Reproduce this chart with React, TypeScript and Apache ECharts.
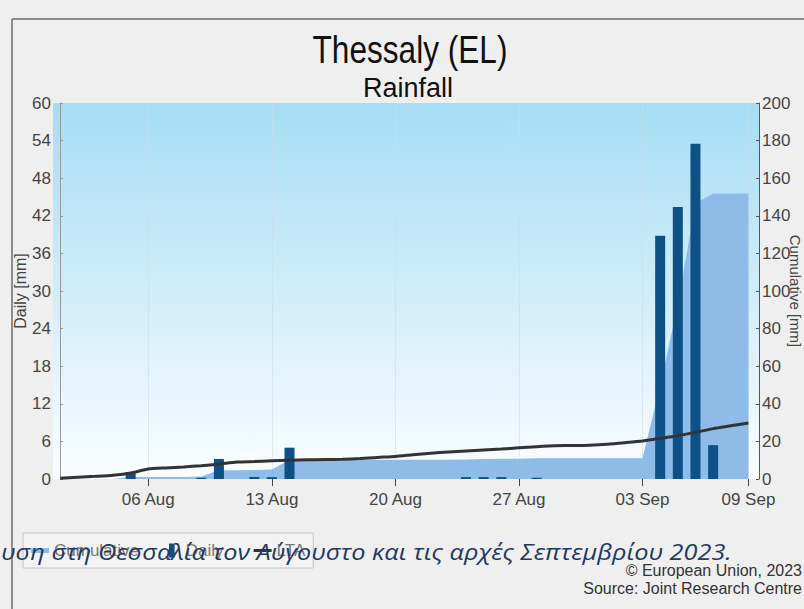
import React, { useEffect, useRef } from "react";
import * as echarts from "echarts";

// ---- data ----
const dates: string[] = [
  "01 Aug", "02 Aug", "03 Aug", "04 Aug", "05 Aug", "06 Aug", "07 Aug", "08 Aug", "09 Aug", "10 Aug",
  "11 Aug", "12 Aug", "13 Aug", "14 Aug", "15 Aug", "16 Aug", "17 Aug", "18 Aug", "19 Aug", "20 Aug",
  "21 Aug", "22 Aug", "23 Aug", "24 Aug", "25 Aug", "26 Aug", "27 Aug", "28 Aug", "29 Aug", "30 Aug",
  "31 Aug", "01 Sep", "02 Sep", "03 Sep", "04 Sep", "05 Sep", "06 Sep", "07 Sep", "08 Sep", "09 Sep",
];
const tickLabels: string[] = ["06 Aug", "13 Aug", "20 Aug", "27 Aug", "03 Sep", "09 Sep"];

const daily: number[] = [
  0, 0, 0, 0, 1.1, 0, 0, 0, 0.2, 3.2,
  0, 0.3, 0.3, 5.0, 0, 0, 0, 0, 0, 0,
  0, 0, 0, 0.3, 0.3, 0.3, 0, 0.2, 0, 0,
  0, 0, 0, 0, 38.8, 43.4, 53.5, 5.4, 0, 0,
];
const cumulative: number[] = [
  0, 0, 0, 0, 1.1, 1.1, 1.1, 1.1, 1.3, 4.6,
  4.6, 4.8, 5.0, 10.2, 10.2, 10.2, 10.2, 10.2, 10.2, 10.2,
  10.2, 10.2, 10.2, 10.4, 10.6, 10.8, 10.8, 11.0, 11.0, 11.0,
  11.0, 11.0, 11.0, 11.0, 49.6, 93.0, 146.5, 151.9, 151.9, 151.9,
];
const lta: number[] = [
  0.4, 0.9, 1.4, 2.0, 3.2, 5.3, 5.9, 6.4, 7.1, 7.9,
  9.0, 9.3, 9.7, 10.0, 10.2, 10.35, 10.5, 10.9, 11.5, 12.0,
  12.9, 13.7, 14.4, 14.9, 15.4, 15.9, 16.6, 17.2, 17.7, 17.8,
  18.0, 18.5, 19.3, 20.2, 21.6, 23.0, 24.8, 26.8, 28.3, 29.8,
];

const title = "Thessaly (EL)";
const subtitle = "Rainfall";
const caption = "υση στη Θεσσαλία τον Αύγουστο και τις αρχές Σεπτεμβρίου 2023.";
const credit1 = "© European Union, 2023";
const credit2 = "Source: Joint Research Centre";

const FONT = "'Liberation Sans', Arial, Helvetica, sans-serif";

function measure(text: string, font: string): number {
  const c = document.createElement("canvas").getContext("2d");
  if (!c) return 0;
  c.font = font;
  return c.measureText(text).width;
}

export default function App() {
  const ref = useRef<HTMLDivElement>(null);

  useEffect(() => {
    if (!ref.current) return;
    const chart = echarts.init(ref.current, undefined, { renderer: "svg" });

    const tickIdx = tickLabels.map((l) => dates.indexOf(l));
    const titleW = measure(title, `38px ${FONT}`);
    const titleScale = titleW > 0 ? 195 / titleW : 1;
    const capFont = `italic 21px 'Open Sans', 'Noto Sans', sans-serif`;
    const capW = measure(caption, capFont);
    const capScale = capW > 0 ? 731 / capW : 1;

    chart.setOption({
      animation: false,
      backgroundColor: "#efefef",
      textStyle: { fontFamily: FONT },
      grid: {
        left: 53,
        right: 45,
        top: 103,
        bottom: 130,
        outerBoundsMode: "none",
        containLabel: false,
        show: true,
        borderWidth: 0,
        backgroundColor: new echarts.graphic.LinearGradient(0, 0, 0, 1, [
          { offset: 0, color: "#a6ddf4" },
          { offset: 1, color: "#fbfdff" },
        ]),
      },
      legend: {
        left: 23,
        top: 533,
        orient: "horizontal",
        itemWidth: 18,
        itemHeight: 14,
        itemGap: 30,
        padding: [9, 8],
        borderColor: "#c4c4c4",
        borderWidth: 1,
        backgroundColor: "#f3f3f3",
        textStyle: { fontSize: 17, color: "#777", fontFamily: FONT },
        data: [
          { name: "Cumulative", icon: "path://M0 0H18V5H0Z" },
          { name: "Daily", icon: "path://M0 0H6V15H0Z" },
          { name: "LTA", icon: "path://M0 0H18V3H0Z" },
        ],
      },
      xAxis: {
        type: "value",
        min: -0.4,
        max: 39.6,
        axisLine: { show: false },
        axisTick: {
          show: true,
          customValues: tickIdx,
          length: 7,
          lineStyle: { color: "#444", width: 1 },
        },
        axisLabel: {
          customValues: tickIdx,
          formatter: (v: number) => dates[Math.round(v)] ?? "",
          margin: 12,
          fontSize: 17,
          color: "#444",
          fontFamily: FONT,
        },
        splitLine: { show: true, lineStyle: { color: "rgba(200,220,232,0.55)", width: 1 } },
      },
      yAxis: [
        {
          type: "value",
          position: "left",
          min: 0,
          max: 60,
          interval: 6,
          name: "Daily [mm]",
          nameLocation: "middle",
          nameRotate: 90,
          nameGap: 25,
          nameMoveOverlap: false,
          nameTextStyle: { fontSize: 16, color: "#444", fontFamily: FONT },
          axisLine: { show: true, lineStyle: { color: "#999", width: 1 } },
          axisTick: { show: true, inside: true, length: 3, lineStyle: { color: "#999" } },
          axisLabel: { margin: 2, fontSize: 17, color: "#444", fontFamily: FONT },
          splitLine: { show: false },
        },
        {
          type: "value",
          position: "right",
          min: 0,
          max: 200,
          interval: 20,
          name: "Cumulative [mm]",
          nameLocation: "middle",
          nameRotate: -90,
          nameGap: 29,
          nameMoveOverlap: false,
          nameTextStyle: { fontSize: 15, color: "#444", fontFamily: FONT },
          axisLine: { show: true, lineStyle: { color: "#555", width: 1 } },
          axisTick: { show: true, inside: true, length: 3, lineStyle: { color: "#555" } },
          axisLabel: { margin: 3, fontSize: 17, color: "#444", fontFamily: FONT },
          splitLine: { show: false },
        },
      ],
      series: [
        {
          name: "Cumulative",
          type: "line",
          yAxisIndex: 1,
          data: cumulative.map((v, i) => [i, v]),
          symbol: "none",
          itemStyle: { color: "#8fbbe9" },
          lineStyle: { width: 0 },
          areaStyle: { color: "#8fbbe9", opacity: 1 },
          z: 1,
        },
        {
          name: "Daily",
          type: "bar",
          yAxisIndex: 0,
          data: daily.map((v, i) => [i, v]),
          barWidth: 10,
          itemStyle: { color: "#0e5186" },
          z: 2,
        },
        {
          name: "LTA",
          type: "line",
          yAxisIndex: 1,
          data: lta.map((v, i) => [i, v]),
          symbol: "none",
          smooth: 0.2,
          itemStyle: { color: "#333" },
          lineStyle: { color: "#333", width: 3 },
          z: 3,
        },
      ],
      graphic: [
        { type: "line", shape: { x1: 12, y1: 19, x2: 804, y2: 19 }, style: { stroke: "#8c8c8c", lineWidth: 2 }, z: 50 },
        { type: "line", shape: { x1: 12, y1: 19, x2: 12, y2: 609 }, style: { stroke: "#8c8c8c", lineWidth: 2 }, z: 50 },
        {
          type: "text",
          x: 410,
          y: 49,
          scaleX: titleScale,
          style: { text: title, font: `38px ${FONT}`, fill: "#111", align: "center", verticalAlign: "middle" },
          z: 50,
        },
        {
          type: "text",
          x: 408,
          y: 88,
          style: { text: subtitle, font: `27px ${FONT}`, fill: "#111", align: "center", verticalAlign: "middle" },
          z: 50,
        },
        {
          type: "text",
          x: 802,
          y: 570,
          style: { text: credit1, font: `16px ${FONT}`, fill: "#333", align: "right", verticalAlign: "middle" },
          z: 50,
        },
        {
          type: "text",
          x: 802,
          y: 588,
          style: { text: credit2, font: `16px ${FONT}`, fill: "#333", align: "right", verticalAlign: "middle" },
          z: 50,
        },
        {
          type: "text",
          x: 1,
          y: 552,
          scaleX: capScale,
          style: { text: caption, font: capFont, fill: "#1f3a62", align: "left", verticalAlign: "middle" },
          z: 100,
        },
      ],
    });

    return () => chart.dispose();
  }, []);

  return (
    <div
      ref={ref}
      style={{ position: "absolute", left: 0, top: 0, width: 804, height: 609 }}
    />
  );
}
